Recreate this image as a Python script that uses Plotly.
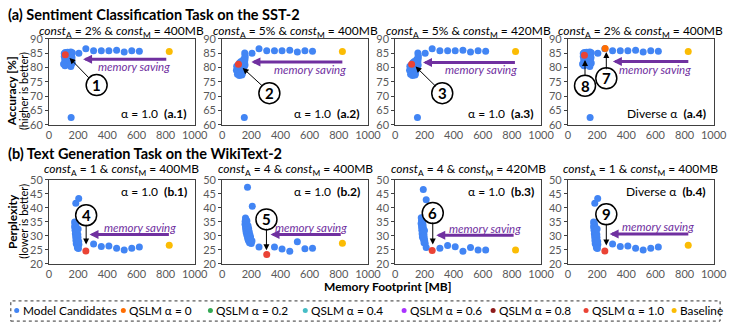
import plotly.graph_objects as go

W, H = 737, 329
FONT = "Lato"

# ---------------- data ----------------
# shared right-hand candidates (SST-2 panels)
a_tail_x = [205, 253, 306, 359, 411, 464, 516, 568, 620, 152]
a_tail_y = [84.9, 86.5, 85.8, 85.8, 85.8, 86.0, 85.4, 85.8, 85.6, 62.5]

# cluster for const_A = 2% (a.1, a.4)
a_clu1_x = [105, 112, 120, 128, 135, 142, 150, 155, 160, 105, 115, 125, 140, 150, 158,
            108, 118, 130, 145, 155, 110, 150, 160, 100, 152]
a_clu1_y = [84.8, 85.2, 84.9, 85.3, 84.6, 85.0, 85.4, 84.7, 85.1, 83.8, 83.5, 84.0, 83.6, 84.1, 83.4,
            82.6, 82.2, 82.9, 82.4, 82.8, 80.6, 80.3, 81.5, 81.2, 81.0]

# cluster for const_A = 5% (a.2, a.3)
a_clu2_x = [155, 157, 158, 156, 154, 157, 150, 145, 100, 105, 110, 118, 125, 130, 135, 140,
            98, 108, 115, 122, 130, 138, 105, 118, 128, 135, 120, 130, 148, 142]
a_clu2_y = [85.0, 84.2, 83.4, 82.6, 81.8, 80.8, 80.0, 79.2, 80.4, 79.6, 80.8, 80.0, 79.4, 80.2, 79.0, 79.8,
            79.0, 78.4, 78.8, 78.2, 78.6, 77.8, 77.6, 77.2, 77.6, 77.3, 81.6, 82.0, 82.8, 81.2]

# WikiText-2 clusters
b_clu1_x = [176, 181, 178, 184, 176, 182, 187, 179, 185, 189, 181, 187, 192, 183, 189, 195, 185, 191,
            197, 187, 194, 199, 189, 196, 202, 192, 199, 205, 195, 202, 198, 204, 200, 184, 204]
b_clu1_y = [35.0, 34.6, 34.0, 33.6, 33.2, 32.8, 32.4, 32.0, 31.6, 31.2, 30.8, 30.4, 30.0, 29.6, 29.2, 28.8, 28.4, 28.0,
            27.6, 27.2, 26.8, 26.4, 29.9, 28.6, 27.2, 31.0, 29.4, 26.9, 25.8, 25.5, 30.5, 28.0, 32.5, 41.7, 43.4]
b_clu2_x = [160, 165, 158, 163, 170, 157, 164, 172, 178, 160, 167, 175, 182, 162, 170, 178, 186, 165,
            173, 181, 190, 170, 178, 186, 195, 175, 183, 192, 180, 190, 198, 188, 200, 205, 174, 207]
b_clu2_y = [36.4, 35.8, 35.2, 34.8, 35.3, 34.2, 33.8, 34.0, 33.5, 33.2, 32.8, 33.0, 32.6, 32.2, 31.8, 32.0, 31.5, 31.2,
            30.8, 31.0, 30.5, 30.2, 29.8, 30.0, 29.6, 29.2, 28.8, 29.0, 28.4, 28.0, 28.6, 27.6, 27.3, 28.2, 47.4, 40.6]
b_clu3_x = [178, 185, 180, 188, 183, 177, 190, 185, 180, 193, 187, 182, 195, 189, 184, 197, 191, 186,
            199, 193, 188, 200, 195, 190, 202, 197, 205, 212, 192, 212]
b_clu3_y = [36.5, 36.0, 35.5, 35.2, 34.8, 34.4, 34.0, 33.6, 33.2, 32.8, 32.4, 32.0, 31.6, 31.2, 30.8, 30.4, 30.0, 29.6,
            29.2, 28.8, 33.8, 31.9, 29.9, 35.7, 28.2, 27.6, 27.3, 25.9, 46.6, 42.9]

b_tail1_x = [306, 359, 411, 464, 516, 568, 620]
b_tail1_y = [27.1, 26.2, 26.4, 25.6, 25.0, 25.6, 26.0]
b_tail2_x = [253, 359, 411, 464, 516, 568, 620]
b_tail2_y = [26.0, 26.0, 25.3, 24.5, 27.9, 25.4, 25.6]
b_tail3_x = [306, 359, 411, 464, 516, 568, 620]
b_tail3_y = [25.6, 26.6, 26.1, 24.5, 25.9, 25.0, 25.0]

# QSLM selections (per panel a.1..a.4, b.1..b.4)
qslm10_x = [112, 112, 112, 113, 253, 306, 253, 253]
qslm10_y = [84.4, 81.1, 81.1, 84.2, 24.6, 23.4, 24.8, 24.6]
qslm0_x = [255]          # a.4 only
qslm0_y = [86.6]

baseline_x = [825, 825, 825, 825, 825, 825, 825, 825]
baseline_y = [85.5, 85.5, 85.5, 85.5, 26.7, 27.4, 25.0, 26.7]

subtitles = ["2% & ", "5% & ", "5% & ", "2% & ", "1 & ", "4 & ", "4 & ", "1 & "]
const_m = ["400MB", "400MB", "420MB", "400MB", "400MB", "400MB", "420MB", "400MB"]
panel_tags = ["(a.1)", "(a.2)", "(a.3)", "(a.4)", "(b.1)", "(b.2)", "(b.3)", "(b.4)"]
alpha_txt = ["α = 1.0", "α = 1.0", "α = 1.0", "Diverse α", "α = 1.0", "α = 1.0", "α = 1.0", "Diverse α"]

x_ticks = [0, 200, 400, 600, 800, 1000]

legend_labels = ["Model Candidates", "QSLM α = 0", "QSLM α = 0.2", "QSLM α = 0.4",
                 "QSLM α = 0.6", "QSLM α = 0.8", "QSLM α = 1.0", "Baseline"]

C_BLUE, C_ORANGE, C_GREEN, C_TEAL = "#4285F4", "#FF6D01", "#34A853", "#46BDC6"
C_PURPLE, C_DRED, C_RED, C_YEL = "#AA33FF", "#8E1B1B", "#EA4335", "#FBBC04"
legend_colors = [C_BLUE, C_ORANGE, C_GREEN, C_TEAL, C_PURPLE, C_DRED, C_RED, C_YEL]
ARROW_PURPLE = "#7030A0"

# ---------------- layout geometry (pixels) ----------------
col_px = [(47, 196), (224, 373), (401, 550), (577.5, 726.5)]
row_px = [(33, 122.5), (180, 267.5)]

blue_sets = [
    (a_clu1_x + a_tail_x, a_clu1_y + a_tail_y),
    (a_clu2_x + a_tail_x, a_clu2_y + a_tail_y),
    (a_clu2_x + a_tail_x, a_clu2_y + a_tail_y),
    (a_clu1_x + a_tail_x, a_clu1_y + a_tail_y),
    (b_clu1_x + b_tail1_x, b_clu1_y + b_tail1_y),
    (b_clu2_x + b_tail2_x, b_clu2_y + b_tail2_y),
    (b_clu3_x + b_tail3_x, b_clu3_y + b_tail3_y),
    (b_clu1_x + b_tail1_x, b_clu1_y + b_tail1_y),
]

fig = go.Figure()
annotations = []
shapes = []

def ax_names(i):
    n = i + 1
    xs = "x" if n == 1 else f"x{n}"
    ys = "y" if n == 1 else f"y{n}"
    xk = "xaxis" if n == 1 else f"xaxis{n}"
    yk = "yaxis" if n == 1 else f"yaxis{n}"
    return xs, ys, xk, yk

tickfont = dict(family=FONT, size=11, color="#595959")
layout_axes = {}
for i in range(8):
    r, c = divmod(i, 4)
    xs, ys, xk, yk = ax_names(i)
    x0, x1 = col_px[c]
    y0, y1 = row_px[r]
    layout_axes[xk] = dict(domain=[x0 / W, x1 / W], range=[0, 1000], anchor=ys,
                           tickvals=x_ticks, showgrid=False, zeroline=False,
                           showline=True, mirror=True, linecolor="#404040", linewidth=1,
                           ticks="", tickfont=tickfont, fixedrange=True)
    yr = [60, 90] if r == 0 else [20, 50]
    layout_axes[yk] = dict(domain=[1 - y1 / H, 1 - y0 / H], range=yr, anchor=xs, dtick=5,
                           tick0=yr[0], showgrid=False, zeroline=False,
                           showline=True, mirror=True, linecolor="#404040", linewidth=1,
                           ticks="outside", ticklen=3, tickcolor="#404040",
                           tickfont=tickfont, fixedrange=True)

    bx, by = blue_sets[i]
    fig.add_trace(go.Scatter(x=bx, y=by, mode="markers", xaxis=xs, yaxis=ys, showlegend=False,
                             marker=dict(color=C_BLUE, size=7), name="Model Candidates"))
    if i == 3:
        fig.add_trace(go.Scatter(x=qslm0_x, y=qslm0_y, mode="markers", xaxis=xs, yaxis=ys,
                                 showlegend=False, marker=dict(color=C_ORANGE, size=7),
                                 name="QSLM α = 0"))
    fig.add_trace(go.Scatter(x=[qslm10_x[i]], y=[qslm10_y[i]], mode="markers", xaxis=xs, yaxis=ys,
                             showlegend=False, marker=dict(color=C_RED, size=7), name="QSLM α = 1.0"))
    fig.add_trace(go.Scatter(x=[baseline_x[i]], y=[baseline_y[i]], mode="markers", xaxis=xs, yaxis=ys,
                             showlegend=False, marker=dict(color=C_YEL, size=7), name="Baseline"))

    # subtitle
    cx = (x0 + x1) / 2 / W
    sy = 1 - (25 if r == 0 else 169) / H
    annotations.append(dict(
        x=cx, y=sy, xref="paper", yref="paper", showarrow=False,
        text=f"<i>const</i><sub>A</sub> = {subtitles[i]}<i>const</i><sub>M</sub> = {const_m[i]}",
        font=dict(family=FONT, size=12, color="black"), xanchor="center", yanchor="middle"))
    # panel label
    annotations.append(dict(
        x=962, y=(64 if r == 0 else 46), xref=xs, yref=ys, showarrow=False, xanchor="right",
        yanchor="middle",
        text=f"{alpha_txt[i]}  <b>{panel_tags[i]}</b>",
        font=dict(family=FONT, size=12, color="black")))

# memory saving arrows: (head_x, tail_x, y, text_x, text_y)
ms = [
    (234, 815, 82.8, 581, 80.2),
    (201, 835, 81.9, 605, 79.2),
    (190, 831, 81.7, 588, 79.2),
    (308, 836, 82.0, 600, 79.4),
    (278, 833, 30.5, 622, 33.1),
    (332, 824, 30.5, 611, 33.1),
    (281, 822, 30.2, 612, 32.8),
    (286, 836, 30.7, 621, 33.3),
]
for i, (hx, tx, yy, ttx, tty) in enumerate(ms):
    xs, ys, _, _ = ax_names(i)
    annotations.append(dict(x=hx, y=yy, ax=tx, ay=yy, xref=xs, yref=ys, axref=xs, ayref=ys,
                            showarrow=True, arrowhead=2, arrowsize=0.6, arrowwidth=3,
                            arrowcolor=ARROW_PURPLE, text=""))
    annotations.append(dict(x=ttx, y=tty, xref=xs, yref=ys, showarrow=False,
                            text="<i>memory saving</i>",
                            font=dict(family=FONT, size=11.5, color=ARROW_PURPLE)))

# circled markers: (panel, label, cx, cy, tail_x, tail_y, head_x, head_y)
circles = [
    (0, "1", 327, 73.8, 284, 75.8, 141, 83.3),
    (1, "2", 324, 71.0, 287, 73.0, 141, 79.8),
    (2, "3", 322, 71.0, 289, 72.8, 139, 80.3),
    (3, "8", 117, 73.6, 117, 76.4, 117, 82.6),
    (3, "7", 263, 76.2, 263, 78.8, 263, 85.4),
    (4, "4", 255, 37.4, 255, 34.6, 255, 26.9),
    (5, "5", 304, 35.9, 304, 33.1, 304, 24.9),
    (6, "6", 257, 38.2, 257, 35.4, 257, 26.9),
    (7, "9", 263, 37.7, 263, 34.9, 263, 26.6),
]
for (p, lab, cx, cy, tx, ty, hx, hy) in circles:
    xs, ys, _, _ = ax_names(p)
    annotations.append(dict(x=hx, y=hy, ax=tx, ay=ty, xref=xs, yref=ys, axref=xs, ayref=ys,
                            showarrow=True, arrowhead=2, arrowsize=1.2, arrowwidth=1,
                            arrowcolor="black", text=""))
    shapes.append(dict(type="circle", xref=xs, yref=ys, xsizemode="pixel", ysizemode="pixel",
                       xanchor=cx, yanchor=cy, x0=-10.5, x1=10.5, y0=-10.5, y1=10.5,
                       fillcolor="white", line=dict(color="black", width=1.5)))
    annotations.append(dict(x=cx, y=cy, xref=xs, yref=ys, showarrow=False, text=f"<b>{lab}</b>",
                            font=dict(family=FONT, size=15, color="black"),
                            xanchor="center", yanchor="middle"))

# section titles
annotations.append(dict(x=3 / W, y=1 - 8 / H, xref="paper", yref="paper", showarrow=False,
                        xanchor="left", yanchor="middle",
                        text="<b>(a) Sentiment Classification Task on the SST-2</b>",
                        font=dict(family=FONT, size=14.5, color="black")))
annotations.append(dict(x=3 / W, y=1 - 153 / H, xref="paper", yref="paper", showarrow=False,
                        xanchor="left", yanchor="middle",
                        text="<b>(b) Text Generation Task on the WikiText-2</b>",
                        font=dict(family=FONT, size=14.5, color="black")))
# y titles
for (txt, px, py, bold) in [("Accuracy [%]", 9, 88, True), ("(higher is better)", 21, 88, False),
                            ("Perplexity", 9, 223, True), ("(lower is better)", 21, 223, False)]:
    annotations.append(dict(x=px / W, y=1 - py / H, xref="paper", yref="paper", showarrow=False,
                            textangle=-90, xanchor="center", yanchor="middle",
                            text=f"<b>{txt}</b>" if bold else txt,
                            font=dict(family=FONT, size=12 if bold else 11, color="black")))
# x title
annotations.append(dict(x=393 / W, y=1 - 291 / H, xref="paper", yref="paper", showarrow=False,
                        xanchor="center", yanchor="middle", text="<b>Memory Footprint [MB]</b>",
                        font=dict(family=FONT, size=12, color="black")))

# legend (manual)
leg_px = [14, 123, 212, 309, 410, 501, 596, 686]
leg_y = 316
shapes.append(dict(type="rect", xref="paper", yref="paper", x0=8 / W, x1=733 / W,
                   y0=1 - 327 / H, y1=1 - 306 / H, line=dict(color="#333333", width=1, dash="dot"),
                   fillcolor="rgba(0,0,0,0)"))
for lab, col, px in zip(legend_labels, legend_colors, leg_px):
    shapes.append(dict(type="circle", xref="paper", yref="paper", xsizemode="pixel",
                       ysizemode="pixel", xanchor=px / W, yanchor=1 - leg_y / H,
                       x0=-2.5, x1=2.5, y0=-2.5, y1=2.5, fillcolor=col, line=dict(width=0)))
    annotations.append(dict(x=(px + 4) / W, y=1 - leg_y / H, xref="paper", yref="paper",
                            showarrow=False, xanchor="left", yanchor="middle", text=lab,
                            font=dict(family=FONT, size=11.8, color="black")))

fig.update_layout(width=W, height=H, margin=dict(l=0, r=0, t=0, b=0),
                  paper_bgcolor="white", plot_bgcolor="white",
                  annotations=annotations, shapes=shapes, showlegend=False,
                  font=dict(family=FONT), **layout_axes)

fig.write_html("out.html")
